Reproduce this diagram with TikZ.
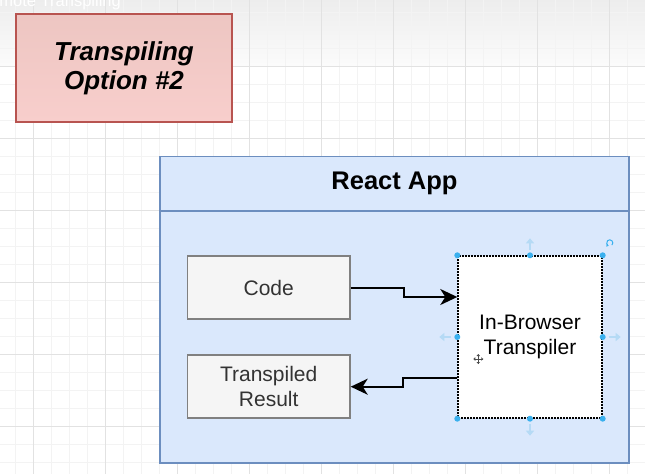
\documentclass[tikz,border=0pt]{standalone}
\usepackage{fontspec}
\setmainfont{Liberation Sans}
\usetikzlibrary{arrows.meta,calc}
\definecolor{redfill}{HTML}{F8CECC}
\definecolor{redtop}{HTML}{EDC6C2}
\definecolor{redline}{HTML}{B85450}
\definecolor{bluefill}{HTML}{DAE8FC}
\definecolor{blueline}{HTML}{6C8EBF}
\definecolor{grayfill}{HTML}{F5F5F5}
\definecolor{grayline}{HTML}{808080}
\definecolor{handle}{HTML}{3AB0EE}
\definecolor{handlefaint}{HTML}{B5DAF5}
\definecolor{gridminor}{HTML}{F3F3F3}
\definecolor{gridmajor}{HTML}{E2E2E2}
\definecolor{textgray}{HTML}{333333}
\tikzset{
  titlebox/.style={draw=redline, line width=1.5pt, top color=redtop, bottom color=redfill,
    minimum width=216pt, minimum height=108pt, align=center,
    font=\fontsize{26}{29}\selectfont\bfseries\itshape},
  container/.style={draw=blueline, fill=bluefill, line width=1.8pt},
  graybox/.style={draw=grayline, fill=grayfill, line width=1.5pt,
    minimum width=162.5pt, minimum height=63pt, align=center, text=textgray,
    font=\fontsize{21}{25}\selectfont},
  selbox/.style={draw=black, fill=white, line width=1.4pt, dash pattern=on 2pt off 1pt,
    minimum width=144pt, minimum height=162pt, align=center,
    font=\fontsize{21}{25.5}\selectfont},
  conn/.style={line width=2pt, -{Stealth[length=17pt,width=16pt,inset=5pt]}},
  hdot/.style={circle, fill=handle, inner sep=0pt, minimum size=6pt},
  faintarrow/.style={draw=handlefaint, line width=2.2pt, -{Triangle[length=5pt,width=8pt]}}
}
\begin{document}
\begin{tikzpicture}[x=1pt,y=-1pt]
\useasboundingbox (0,0) rectangle (645,474);
\clip (0,0) rectangle (645,474);
\fill[white] (0,0) rectangle (645,474);
\shade[top color=gray!14, bottom color=gray!3] (0,0) rectangle (645,66);
% grid
\foreach \i in {0,...,35} \draw[gridminor, line width=0.8pt] ({15.3+18*\i},0) -- ++(0,474);
\foreach \i in {0,...,26} \draw[gridminor, line width=0.8pt] (0,{12+18*\i}) -- ++(645,0);
\foreach \i in {0,...,8} \draw[gridmajor, line width=0.8pt] ({33.3+72*\i},0) -- ++(0,474);
\foreach \i in {0,...,5} \draw[gridmajor, line width=0.8pt] (0,{66+72*\i}) -- ++(645,0);
% cut-off heading
\node[anchor=base east, text=white, font=\fontsize{16.5}{18}\selectfont, inner sep=0pt] (remote) at (121,6) {Remote Transpiling};
% title
\node[titlebox] (title) at (124,68) {Transpiling\\Option \#2};
% container
\node[container, minimum width=469pt, minimum height=306.5pt] (app) at (394.5,309.75) {};
\node[container, minimum width=469pt, minimum height=54.5pt, anchor=north,
  font=\fontsize{25.5}{28}\selectfont\bfseries] (apphead) at (app.north) {React App};
% boxes
\node[graybox] (code) at (268.7,287.5) {Code};
\node[graybox] (result) at (268.7,386.7) {Transpiled\\Result};
\node[selbox] (tr) at (530,337) {In-Browser\\Transpiler};
% connectors
\draw[conn] (code.east) -- ++(53.5,0) |- ([yshift=40pt]tr.west);
\draw[conn] ([yshift=-41pt]tr.west) -- ++(-54,0) |- (result.east);
% selection handles
\foreach \a in {north west,north,north east,west,east,south west,south,south east}
  \node[hdot] at (tr.\a) {};
\draw[faintarrow] ($(tr.north)+(0,-5)$) -- ++(0,-12);
\draw[faintarrow] ($(tr.south)+(0,5)$) -- ++(0,12);
\draw[faintarrow] ($(tr.west)+(-6,0)$) -- ++(-12,0);
\draw[faintarrow] ($(tr.east)+(6,0)$) -- ++(12,0);
% rotation icon
\coordinate (rot) at ($(tr.north east)+(7,-8)$);
\draw[handle, line width=1pt, -{Triangle[length=2pt,width=3pt]}] ($(rot)+(2.2,-2.2)$) arc[start angle=45, end angle=-250, radius=3.1];
% move cursor
\coordinate (mv) at (478.3,359);
\draw[black!70, line width=0.9pt] ($(mv)+(-4.5,0)$) -- ($(mv)+(4.5,0)$) ($(mv)+(0,-4.5)$) -- ($(mv)+(0,4.5)$);
\fill[black!70] ($(mv)+(-5,0)$) -- ++(2,-1.8) -- ++(0,3.6) -- cycle
  ($(mv)+(5,0)$) -- ++(-2,-1.8) -- ++(0,3.6) -- cycle
  ($(mv)+(0,-5)$) -- ++(-1.8,2) -- ++(3.6,0) -- cycle
  ($(mv)+(0,5)$) -- ++(-1.8,-2) -- ++(3.6,0) -- cycle;
\end{tikzpicture}
\end{document}
